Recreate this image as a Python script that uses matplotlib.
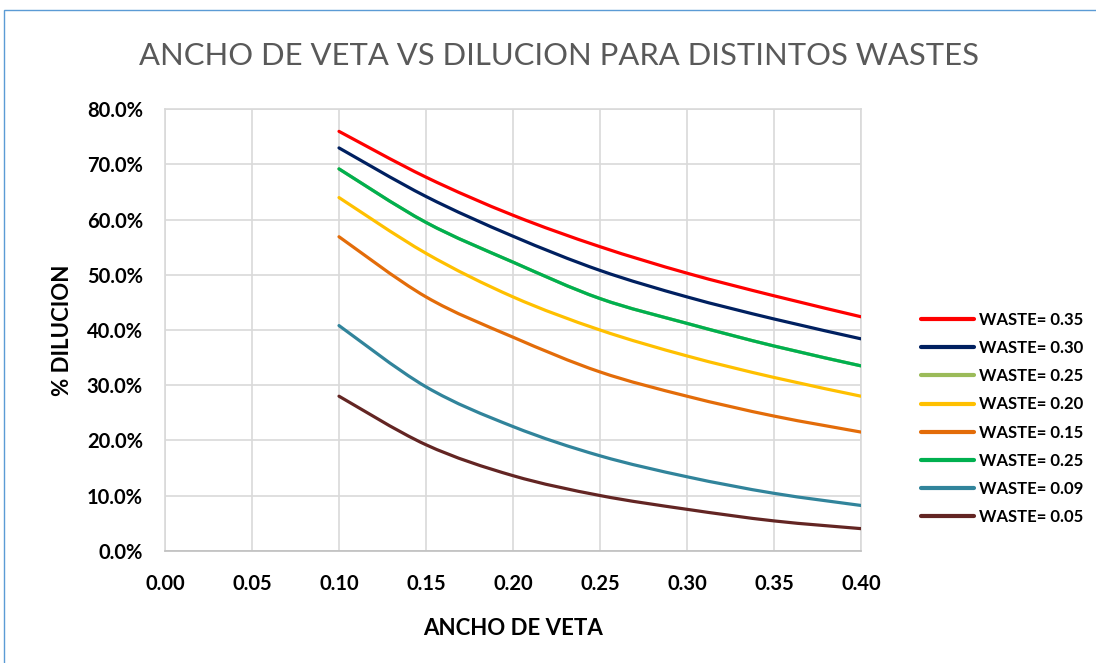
import numpy as np
import matplotlib
matplotlib.use("Agg")
import matplotlib.pyplot as plt
import matplotlib.ticker as mticker
from matplotlib.path import Path
from matplotlib.patches import PathPatch, Rectangle
from matplotlib.lines import Line2D

plt.rcParams['font.family'] = ['Lato', 'DejaVu Sans']

# Ancho de veta (m) y dilucion para cada waste
ancho = [0.10, 0.15, 0.20, 0.25, 0.30, 0.35, 0.40]
waste_035 = [0.760, 0.677, 0.608, 0.551, 0.503, 0.462, 0.424]
waste_030 = [0.730, 0.642, 0.570, 0.508, 0.460, 0.420, 0.384]
waste_025 = [0.692, 0.595, 0.523, 0.457, 0.412, 0.371, 0.335]
waste_020 = [0.640, 0.539, 0.460, 0.400, 0.353, 0.314, 0.280]
waste_015 = [0.569, 0.460, 0.387, 0.324, 0.280, 0.244, 0.215]
waste_009 = [0.408, 0.297, 0.225, 0.172, 0.134, 0.104, 0.082]
waste_005 = [0.280, 0.192, 0.136, 0.100, 0.075, 0.054, 0.040]

etiquetas = ['WASTE= 0.35', 'WASTE= 0.30', 'WASTE= 0.25', 'WASTE= 0.20',
             'WASTE= 0.15', 'WASTE= 0.25', 'WASTE= 0.09', 'WASTE= 0.05']
series = [waste_035, waste_030, waste_025, waste_020,
          waste_015, waste_025, waste_009, waste_005]
colores = ['#FF0000', '#002060', '#9BBB59', '#FFC000',
           '#E36C09', '#00B050', '#31849B', '#632523']


def curva_suave(x, y):
    # Curva tipo Excel: Catmull-Rom convertido a segmentos Bezier cubicos
    p = np.column_stack((x, y))
    ext = np.vstack((p[0], p, p[-1]))
    verts = [p[0]]
    codes = [Path.MOVETO]
    for i in range(len(p) - 1):
        p0, p1, p2, p3 = ext[i], ext[i + 1], ext[i + 2], ext[i + 3]
        c1 = p1 + (p2 - p0) / 6.0
        c2 = p2 - (p3 - p1) / 6.0
        verts += [c1, c2, p2]
        codes += [Path.CURVE4] * 3
    return Path(verts, codes)


fig = plt.figure(figsize=(10.96, 6.63), dpi=100)
ax = fig.add_axes([165 / 1096, 1 - 550.7 / 663, (861 - 165) / 1096, (550.7 - 109.3) / 663])

handles = []
for i, (vals, col, lab) in enumerate(zip(series, colores, etiquetas)):
    patch = PathPatch(curva_suave(ancho, vals), facecolor='none', edgecolor=col,
                      lw=2.3, capstyle='round', joinstyle='round', zorder=3 + i)
    ax.add_patch(patch)
    handles.append(Line2D([], [], color=col, lw=3.0, solid_capstyle='round'))

ax.set_xlim(0, 0.40)
ax.set_ylim(0, 0.80)
ax.xaxis.set_major_locator(mticker.MultipleLocator(0.05))
ax.yaxis.set_major_locator(mticker.MultipleLocator(0.10))
ax.xaxis.set_major_formatter(mticker.FormatStrFormatter('%.2f'))
ax.yaxis.set_major_formatter(mticker.PercentFormatter(1.0, decimals=1))
ax.grid(True, color='#D9D9D9', lw=1.2)
ax.set_axisbelow(True)
for s in ['top', 'right', 'left']:
    ax.spines[s].set_color('#D9D9D9')
    ax.spines[s].set_linewidth(1.2)
ax.spines['bottom'].set_color('#BFBFBF')
ax.spines['bottom'].set_linewidth(1.2)
ax.tick_params(length=0, labelsize=14.5, colors='#000000')
ax.tick_params(axis='y', pad=16)
ax.tick_params(axis='x', pad=17)
for t in ax.get_xticklabels() + ax.get_yticklabels():
    t.set_fontweight('bold')

ax.set_xlabel('ANCHO DE VETA', fontsize=16, fontweight='bold', labelpad=17)
ax.set_ylabel('% DILUCION', fontsize=16, fontweight='bold', labelpad=10)

fig.text(0.510, 0.915, 'ANCHO DE VETA VS DILUCION PARA DISTINTOS WASTES',
         ha='center', va='center', fontsize=22.3, color='#595959')

fig.legend(handles, etiquetas, loc='center left', bbox_to_anchor=(921 / 1096, 1 - 418.5 / 663),
           frameon=False, prop={'weight': 'bold', 'size': 12}, handlelength=3.2,
           handletextpad=0.3, labelspacing=0.73, borderpad=0, borderaxespad=0)

# Borde exterior del grafico
fig.add_artist(Rectangle((4 / 1096, -0.01), 1.1, 1 - 10 / 663 + 0.01,
                         transform=fig.transFigure, fill=False,
                         edgecolor='#5B9BD5', lw=1.0))

fig.savefig('out.png', dpi=100)
